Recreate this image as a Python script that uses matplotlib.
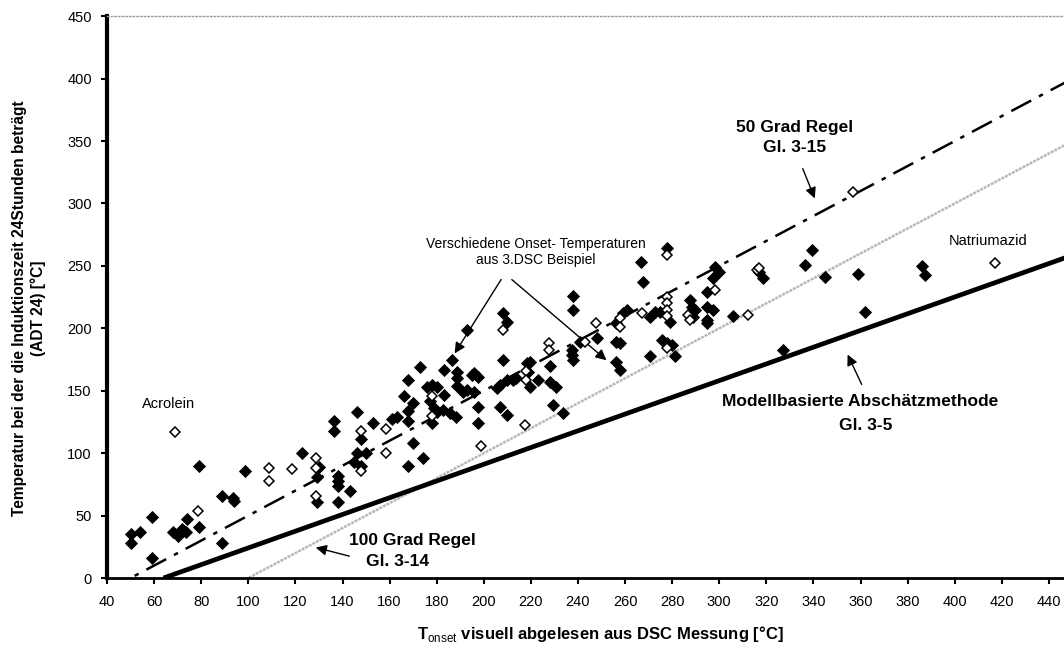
import numpy as np
import matplotlib
matplotlib.use("Agg")
import matplotlib.pyplot as plt

plt.rcParams['font.family'] = ['Liberation Sans', 'DejaVu Sans']
plt.rcParams['mathtext.fontset'] = 'custom'
plt.rcParams['mathtext.rm'] = 'Liberation Sans'
plt.rcParams['mathtext.bf'] = 'Liberation Sans:bold'

# --- measured substances: Tonset (DSC) vs. ADT24 ---------------------------
filled_x = [50, 50, 54, 59, 59, 68, 70, 72, 74, 73.5, 79, 79, 89, 89, 93.5, 94,
            98.6, 123, 130, 129, 129, 136.5, 136.5, 138, 138, 138, 138, 143, 146,
            148, 146, 145, 148, 150, 153, 161, 163, 166, 168, 173, 168, 168, 170,
            170, 174, 168, 176, 178, 180, 177, 179, 180, 178, 183, 182.7, 185.6,
            188, 183, 186.5, 188.6, 188.6, 188.6, 195, 196, 197.5, 191, 193, 196,
            193, 197.5, 197.5, 208, 210, 208, 207, 210, 212.5, 213.6, 207, 210,
            205.6, 218.3, 219.6, 218.7, 219.6, 223, 228, 228, 230.7, 229.4, 233.6,
            238, 238, 237.5, 237.5, 238, 241, 248, 256, 256, 258, 256, 258, 261,
            259.3, 266.7, 267.6, 278, 270.5, 272.7, 275, 279, 275.7, 278, 280, 281,
            270.5, 287.6, 288.4, 289.7, 288.8, 294.8, 294.8, 297.3, 295, 297.3, 300,
            298, 295, 305.8, 317, 318.5, 336.4, 339.4, 345, 359, 362, 327, 386,
            387.3]
filled_y = [35, 28, 37, 49, 16, 37, 34, 39, 47, 37, 41, 90, 66, 28, 64, 62,
            86, 100, 89, 81, 61, 126, 118, 82, 78, 74, 61, 70, 133,
            111, 100, 93, 90, 100, 124, 127, 129, 146, 159, 169, 134, 126, 140,
            108, 96, 90, 153, 155, 153, 142, 136, 133, 124, 146.5, 134.5, 132,
            129, 166.5, 174.5, 165, 160, 153.7, 162.5, 164, 161, 149, 150.5, 149,
            199, 137, 124, 212, 205, 175, 154.5, 158.5, 158.5, 160, 137, 130.5,
            152, 172, 173, 165, 153, 158.5, 170, 157, 153, 138.5, 132,
            226, 214.6, 182.5, 178.5, 174.5, 189, 192, 204, 189, 188, 173, 166.5, 214.5,
            212, 253, 237, 264, 209, 213, 213, 205, 191, 188, 186.5, 178,
            178, 222.6, 217, 214.6, 209, 206.6, 217, 214.6, 229, 240, 245,
            249, 204, 210, 245, 240, 250.6, 262.6, 241, 243.4, 213, 183, 250,
            242.6]

open_x = [69, 78.6, 108.8, 108.8, 118.6, 128.7, 128.7, 128.7, 148, 148, 158.5,
          158.5, 178, 178, 199, 208, 218, 218, 217.5, 227.7, 227.7, 243, 247.6,
          258, 258, 267, 278, 278, 278, 278, 278, 278, 286.7, 287.6, 298.2, 312,
          316, 317, 356.8, 417]
open_y = [117, 54, 88, 78, 87, 96, 88, 66, 118, 86, 119,
          100, 146, 130, 106, 198.5, 166, 158.5, 122.5, 188, 183, 189, 204,
          208, 201, 212, 259, 225, 220, 214.5, 210, 184, 210.5, 206.6, 230.6, 211,
          246.6, 248, 309, 252]

# --- rule-of-thumb lines -----------------------------------------------------
x_line = np.array([40, 450])
rule_100 = x_line - 100          # 100 Grad Regel, Gl. 3-14
rule_50 = x_line - 50            # 50 Grad Regel, Gl. 3-15
model_x = np.array([64, 450])
model_y = np.array([0, 258.6])   # Modellbasierte Abschätzmethode, Gl. 3-5

x_ticks = list(range(40, 460, 20))
y_ticks = list(range(0, 500, 50))

fig = plt.figure(figsize=(10.64, 6.48), dpi=100)
ax = fig.add_axes([0.1006, 0.108, 0.8994, 0.867])
ax.set_xlim(40, 446.4)
ax.set_ylim(0, 450)

ax.plot(x_line, rule_100, color='#b8b8b8', lw=1.8, ls=(0, (1.2, 0.4)), zorder=2)
ax.plot(x_line, rule_50, color='black', lw=1.8, ls=(0, (9, 3.5, 1.8, 3.5)), zorder=2)
ax.plot(model_x, model_y, color='black', lw=3.4, solid_capstyle='butt', zorder=2)

ax.plot(filled_x, filled_y, ls='none', marker='D', ms=5.8, mfc='black',
        mec='black', mew=0.6, zorder=3)
ax.plot(open_x, open_y, ls='none', marker='D', ms=5.2, mfc='white',
        mec='black', mew=1.1, zorder=4)

# --- annotations -------------------------------------------------------------
ax.text(66, 139, 'Acrolein', fontsize=10.5, ha='center', va='center')
ax.text(414, 270, 'Natriumazid', fontsize=10.5, ha='center', va='center')

ax.text(222, 249, 'Verschiedene Onset- Temperaturen\naus 3.DSC Beispiel',
        fontsize=10, ha='center', va='bottom', linespacing=1.2)
arr = dict(arrowstyle='-|>', color='black', lw=1.0, mutation_scale=16)
ax.annotate('', xy=(187, 178), xytext=(208, 241), arrowprops=arr)
ax.annotate('', xy=(253, 173), xytext=(211, 240.5), arrowprops=arr)

ax.text(332, 361, '50 Grad Regel', fontsize=12.5, fontweight='bold',
        ha='center', va='center')
ax.text(332, 345, 'Gl. 3-15', fontsize=12.5, fontweight='bold',
        ha='center', va='center')
ax.annotate('', xy=(341, 302), xytext=(335, 330), arrowprops=arr)

ax.text(360, 141, 'Modellbasierte Abschätzmethode', fontsize=12.5,
        fontweight='bold', ha='center', va='center')
ax.text(362, 122.5, 'Gl. 3-5', fontsize=12.5, fontweight='bold',
        ha='center', va='center')
ax.annotate('', xy=(354, 181), xytext=(361, 153), arrowprops=arr)

ax.text(169.5, 30, '100 Grad Regel', fontsize=12.5, fontweight='bold',
        ha='center', va='center')
ax.text(163.5, 13, 'Gl. 3-14', fontsize=12.5, fontweight='bold',
        ha='center', va='center')
ax.annotate('', xy=(127.5, 25), xytext=(144, 17), arrowprops=arr)

# --- axes styling ------------------------------------------------------------
ax.set_xticks(x_ticks)
ax.set_yticks(y_ticks)
ax.tick_params(axis='both', direction='out', length=4, width=1.5, labelsize=10.5)
ax.tick_params(axis='x', pad=8)
ax.tick_params(axis='y', pad=7)
ax.spines['right'].set_visible(False)
ax.spines['top'].set_color('#9a9a9a')
ax.spines['top'].set_linewidth(1.0)
ax.spines['top'].set_linestyle(':')
ax.spines['left'].set_linewidth(3)
ax.spines['bottom'].set_linewidth(2)

ax.set_xlabel(r'T$_{\rm onset}$ visuell abgelesen aus DSC Messung [°C]',
              fontsize=12, fontweight='bold')
ax.xaxis.set_label_coords(0.515, -0.082)
ax.set_ylabel('Temperatur bei der die Induktionszeit 24Stunden beträgt\n(ADT 24) [°C]',
              fontsize=11.2, fontweight='bold', linespacing=1.25)
ax.yaxis.set_label_coords(-0.064, 0.48)

fig.savefig('out.png', dpi=100, facecolor='white')
